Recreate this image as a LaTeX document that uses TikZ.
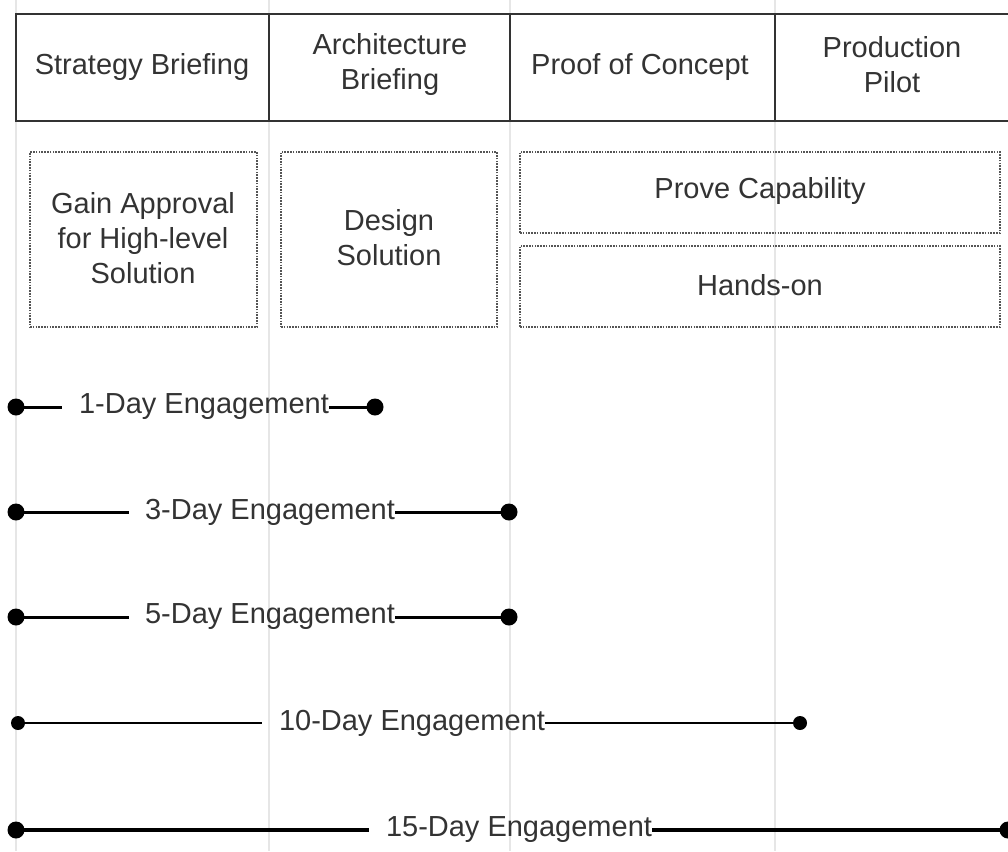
\documentclass[tikz,border=0pt]{standalone}
\usepackage{fontspec}
\setmainfont{Liberation Sans}
\definecolor{txt}{HTML}{333333}
\definecolor{guide}{HTML}{E6E6E6}
\definecolor{boxline}{HTML}{555555}
\begin{document}
\begin{tikzpicture}[x=1pt,y=-1pt,
  lbl/.style={font=\fontsize{29}{35}\selectfont, text=txt, align=center, inner sep=0pt},
  goalbox/.style={draw=boxline, line width=1.6pt, dash pattern=on 1.6pt off 1.2pt, rectangle, inner sep=0pt},
  hdr/.style={draw=txt, line width=2.4pt},
  dotnode/.style={circle, fill=black, inner sep=0pt, minimum size=#1},
  dotnode/.default=17pt,
  span/.style={draw=black, line width=#1},
  span/.default=3pt,
  elbl/.style={lbl, inner xsep=0pt}
]
\useasboundingbox (0,0) rectangle (1008,851);
% faint guide lines
\foreach \gx in {16,269,510,775}
  \draw[guide, line width=1.5pt] (\gx,0) -- (\gx,851);
% header
\draw[hdr] (1010,14) -- (16,14) -- (16,121) -- (1010,121);
\draw[hdr] (269,14) -- (269,121);
\draw[hdr] (510,14) -- (510,121);
\draw[hdr] (775,14) -- (775,121);
\node[lbl] (h1) at (142,67) {Strategy Briefing};
\node[lbl] (h2) at (390,65) {Architecture\\Briefing};
\node[lbl] (h3) at (640,67) {Proof of Concept};
\node[lbl] (h4) at (892,65) {Production\\Pilot};
% goal boxes
\node[goalbox, minimum width=227pt, minimum height=175pt] (g1) at (143.5,239.5) {};
\node[lbl] (g1t) at (143,238) {Gain Approval\\for High-level\\Solution};
\node[goalbox, minimum width=216pt, minimum height=175pt] (g2) at (389,239.5) {};
\node[lbl] (g2t) at (389,238) {Design\\Solution};
\node[goalbox, minimum width=480pt, minimum height=81pt] (g3) at (760,192.5) {};
\node[lbl] (g3t) at (760,191) {Prove Capability};
\node[goalbox, minimum width=480pt, minimum height=81pt] (g4) at (760,286.5) {};
\node[lbl] (g4t) at (760,285) {Hands-on};
% engagements
% 1-day
\node[dotnode] (a1) at (16,407) {};
\node[dotnode] (b1) at (375,407) {};
\node[elbl] (t1) at (204,407) {1-Day Engagement};
\draw[span] (a1.center) -- ([xshift=-17pt]t1.west);
\draw[span] (t1.east) -- (b1.center);
% 3-day
\node[dotnode] (a3) at (16,512) {};
\node[dotnode] (b3) at (509,512) {};
\node[elbl] (t3) at (270,512) {3-Day Engagement};
\draw[span] (a3.center) -- ([xshift=-16pt]t3.west);
\draw[span] (t3.east) -- (b3.center);
% 5-day
\node[dotnode] (a5) at (16,617) {};
\node[dotnode] (b5) at (509,617) {};
\node[elbl] (t5) at (270,617) {5-Day Engagement};
\draw[span] (a5.center) -- ([xshift=-16pt]t5.west);
\draw[span] (t5.east) -- (b5.center);
% 10-day
\node[dotnode=14pt] (a10) at (18,723) {};
\node[dotnode=14pt] (b10) at (800,723) {};
\node[elbl] (t10) at (412,723) {10-Day Engagement};
\draw[span=2pt] (a10.center) -- ([xshift=-17pt]t10.west);
\draw[span=2pt] (t10.east) -- (b10.center);
% 15-day
\node[dotnode] (a15) at (16,830) {};
\node[dotnode] (b15) at (1008,830) {};
\node[elbl] (t15) at (519,830) {15-Day Engagement};
\draw[span=3.6pt] (a15.center) -- ([xshift=-17pt]t15.west);
\draw[span=3.6pt] (t15.east) -- (b15.center);
\end{tikzpicture}
\end{document}
